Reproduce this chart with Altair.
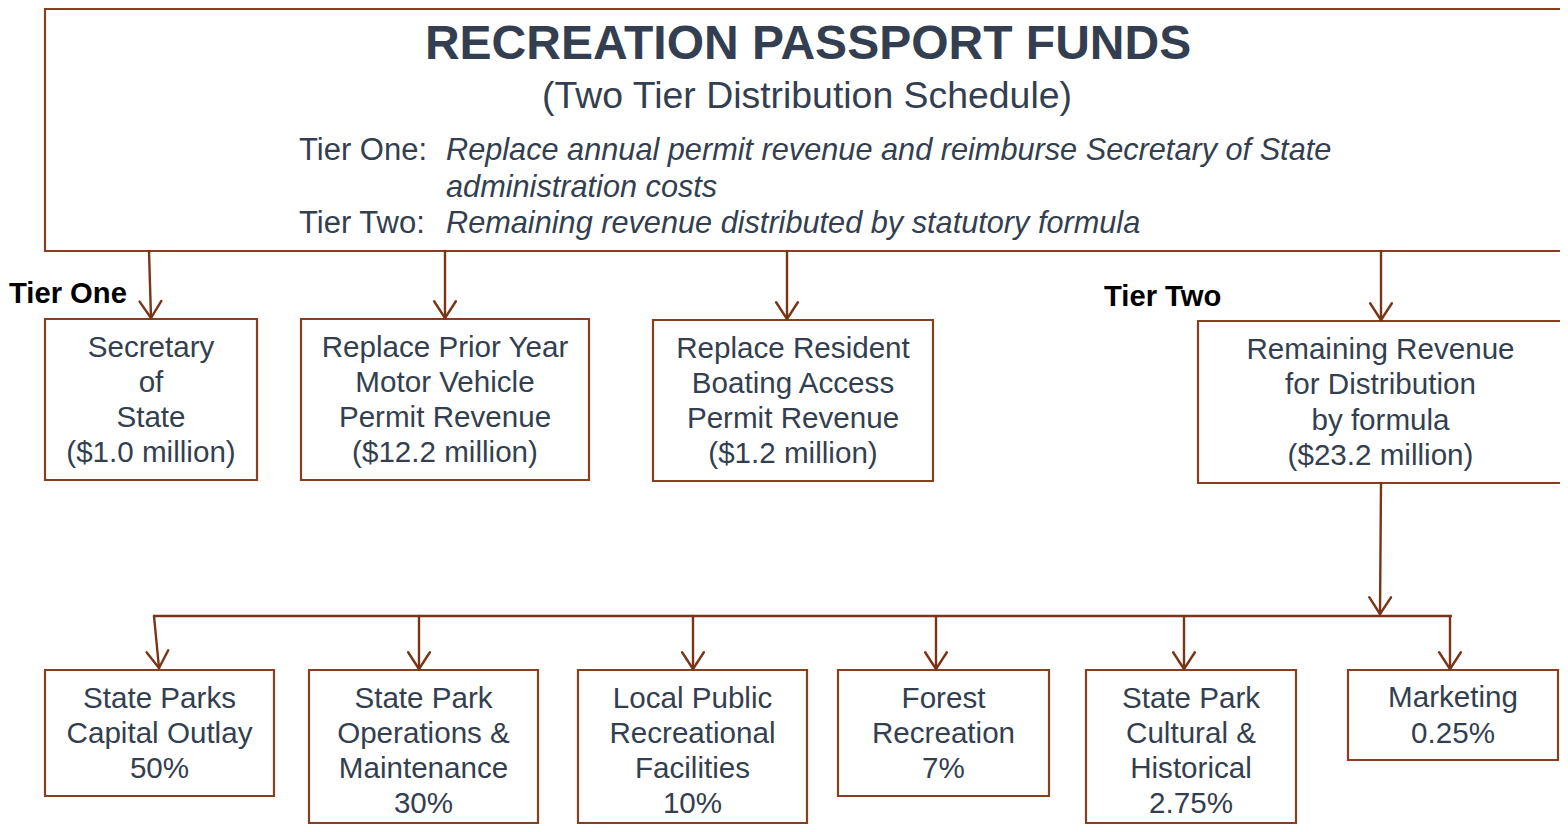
import math
import altair as alt
import pandas as pd

# ---------------- content ----------------
TITLE = "RECREATION PASSPORT FUNDS"
SUBTITLE = "(Two Tier Distribution Schedule)"
TIER_KEYS = ["Tier One:", "Tier Two:"]
TIER_DESC = [
    "Replace annual permit revenue and reimburse Secretary of State",
    "administration costs",
    "Remaining revenue distributed by statutory formula",
]
SECTION_LABELS = ["Tier One", "Tier Two"]

TIER1_NAMES = [
    ["Secretary", "of", "State"],
    ["Replace Prior Year", "Motor Vehicle", "Permit Revenue"],
    ["Replace Resident", "Boating Access", "Permit Revenue"],
    ["Remaining Revenue", "for Distribution", "by formula"],
]
TIER1_MILLIONS = [1.0, 12.2, 1.2, 23.2]

TIER2_NAMES = [
    ["State Parks", "Capital Outlay"],
    ["State Park", "Operations &", "Maintenance"],
    ["Local Public", "Recreational", "Facilities"],
    ["Forest", "Recreation"],
    ["State Park", "Cultural &", "Historical"],
    ["Marketing"],
]
TIER2_PCT = ["50%", "30%", "10%", "7%", "2.75%", "0.25%"]

# ---------------- layout (pixel space of the picture) ----------------
W, H = 1552, 816
X0, Y0 = 8, 8                      # page margin: picture pixel of the plot's top-left
TOP_BOX = [45, 4, 1580, 251]
TIER1_BOXES = [[45, 319, 257, 480], [301, 319, 589, 480], [653, 320, 933, 481], [1198, 321, 1563, 483]]
TIER2_BOXES = [[45, 670, 274, 796], [309, 670, 538, 831], [578, 670, 807, 831],
               [838, 670, 1049, 796], [1086, 670, 1296, 831], [1348, 670, 1558, 760]]
ARROWS = [[149, 251, 151, 318], [445, 251, 445, 318], [787, 251, 787, 319], [1381, 251, 1381, 320],
          [1381, 483, 1380, 614],
          [154, 616, 159, 668], [419, 616, 419, 669], [693, 616, 693, 669], [936, 616, 936, 669],
          [1184, 616, 1184, 669], [1450, 616, 1450, 669]]
BRANCH = [154, 616, 1451, 616]
LINE_GAP = 35.3

BORDER = "#84401f"
ARROW_C = "#7a3418"
TEXT_C = "#333f50"
FONT = "Liberation Sans"

xs = alt.Scale(domain=[X0, X0 + W], range=[0, W])
ys = alt.Scale(domain=[Y0, Y0 + H], range=[0, H])

# keep borders that sit on the picture's edge visible inside the plot area
def clamp_box(b):
    return dict(x=max(b[0], X0 + 1), y=max(b[1], Y0 + 1), x2=b[2], y2=min(b[3], Y0 + H - 1))

# ---------------- tables ----------------
boxes_df = pd.DataFrame([clamp_box(b) for b in [TOP_BOX] + TIER1_BOXES + TIER2_BOXES])

segs = []
for a in ARROWS:
    x1, y1, x2, y2 = a
    segs.append(dict(x=x1, y=y1, x2=x2, y2=y2))
    dx, dy = x2 - x1, y2 - y1
    L = math.hypot(dx, dy)
    ux, uy = dx / L, dy / L
    for s in (1, -1):
        ang = math.radians(33) * s
        bx = -(ux * math.cos(ang) - uy * math.sin(ang)) * 20
        by = -(ux * math.sin(ang) + uy * math.cos(ang)) * 20
        segs.append(dict(x=x2, y=y2, x2=x2 + bx, y2=y2 + by))
segs.append(dict(x=BRANCH[0], y=BRANCH[1], x2=BRANCH[2], y2=BRANCH[3]))
segs_df = pd.DataFrame(segs)

box_lines = []
for names, amt, b in zip(TIER1_NAMES, TIER1_MILLIONS, TIER1_BOXES):
    lines = names + [f"(${amt:.1f} million)"]
    cy = (b[1] + b[3]) / 2 + 1
    for i, t in enumerate(lines):
        box_lines.append(dict(x=(b[0] + b[2]) / 2, y=cy + (i - (len(lines) - 1) / 2) * LINE_GAP, t=t))
for names, pct, b in zip(TIER2_NAMES, TIER2_PCT, TIER2_BOXES):
    lines = names + [pct]
    cy = (b[1] + b[3]) / 2 + 1
    for i, t in enumerate(lines):
        box_lines.append(dict(x=(b[0] + b[2]) / 2, y=cy + (i - (len(lines) - 1) / 2) * LINE_GAP, t=t))
box_lines_df = pd.DataFrame(box_lines)

X = lambda f: alt.X(f"{f}:Q", scale=xs, axis=None)
Y = lambda f: alt.Y(f"{f}:Q", scale=ys, axis=None)

rects = alt.Chart(boxes_df).mark_rect(fill="white", stroke=BORDER, strokeWidth=2.2, clip=True).encode(
    x=X("x"), x2="x2", y=Y("y"), y2="y2")

rules = alt.Chart(segs_df).mark_rule(color=ARROW_C, strokeWidth=2.4, strokeCap="round", clip=True).encode(
    x=X("x"), x2="x2", y=Y("y"), y2="y2")

def text_layer(df, size, align="center", weight="normal", style="normal", color=TEXT_C):
    return alt.Chart(df).mark_text(font=FONT, fontSize=size, align=align, baseline="middle",
                                   fontWeight=weight, fontStyle=style, color=color).encode(
        x=X("x"), y=Y("y"), text="t:N")

title_df = pd.DataFrame([dict(x=808, y=45, t=TITLE)])
sub_df = pd.DataFrame([dict(x=807, y=97, t=SUBTITLE)])
keys_df = pd.DataFrame([dict(x=299, y=151, t=TIER_KEYS[0]), dict(x=299, y=224, t=TIER_KEYS[1])])
desc_df = pd.DataFrame([dict(x=446, y=151, t=TIER_DESC[0]), dict(x=446, y=188, t=TIER_DESC[1]),
                        dict(x=446, y=224, t=TIER_DESC[2])])
sect_df = pd.DataFrame([dict(x=9, y=294, t=SECTION_LABELS[0]), dict(x=1104, y=297, t=SECTION_LABELS[1])])

chart = alt.layer(
    rects,
    rules,
    text_layer(title_df, 48, weight="bold"),
    text_layer(sub_df, 37.4),
    text_layer(keys_df, 31, align="left"),
    text_layer(desc_df, 30.7, align="left", style="italic"),
    text_layer(sect_df, 29.2, align="left", weight="bold", color="#000000"),
    text_layer(box_lines_df, 29.6),
).properties(width=W, height=H, padding=0, autosize="none").configure_view(stroke=None)

chart.save("out.html", embed_options={"renderer": "svg", "actions": False})
